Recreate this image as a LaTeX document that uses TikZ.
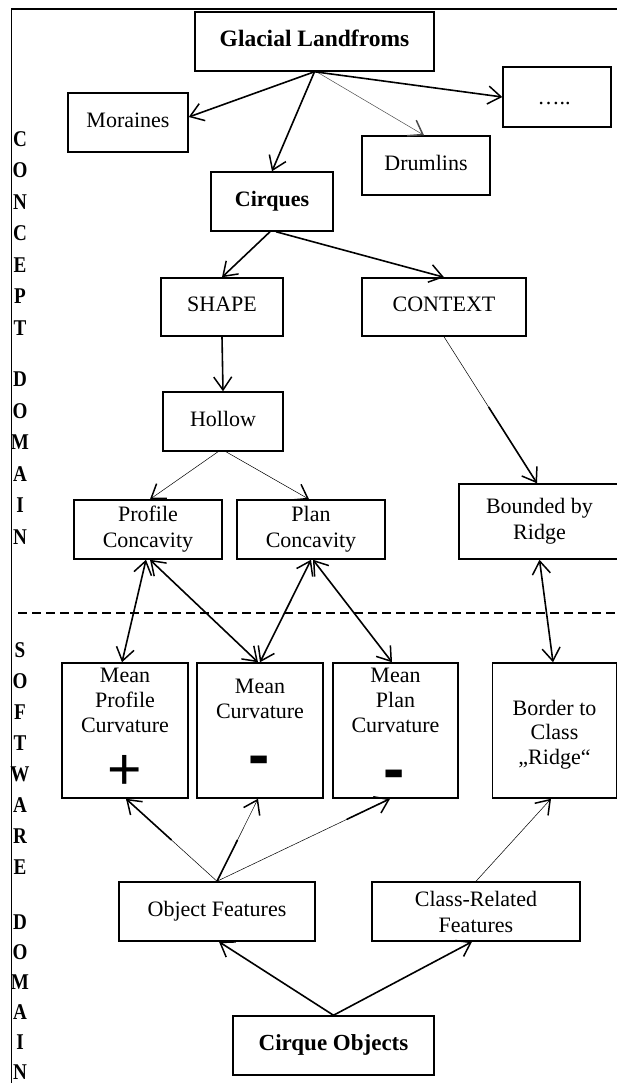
\documentclass[tikz,border=0pt]{standalone}
\usepackage{fontspec}
\setmainfont{Liberation Serif}
\newfontfamily\signfont{Liberation Sans}
\newfontfamily\sidefont{Liberation Serif}[FakeStretch=0.85]
\usetikzlibrary{arrows.meta,calc}
\begin{document}
\begin{tikzpicture}[x=1pt,y=-1pt,
  box/.style={draw, line width=1.5pt, inner sep=0pt, align=center, font=\fontsize{22}{26}\selectfont},
  single/.style={text height=15.4pt, text depth=5.5pt},
  bbox/.style={box, font=\fontsize{23}{27}\selectfont\bfseries, text height=16.1pt, text depth=5.75pt},
  txt/.style={inner sep=0pt, align=center, font=\fontsize{22}{25}\selectfont},
  plus/.style={inner sep=0pt, font=\signfont\fontsize{59}{59}\selectfont},
  minus/.style={inner sep=0pt, font=\signfont\bfseries\fontsize{64}{64}\selectfont},
  side/.style={inner sep=0pt, font=\sidefont\fontsize{22.5}{22.5}\selectfont\bfseries, text height=14.9pt, text depth=0pt},
  thk/.style={line width=1.6pt},
  thn/.style={line width=0.5pt},
  arr/.style={-{Straight Barb[length=13pt,width=18pt,line width=1.5pt]}},
  darr/.style={{Straight Barb[length=13pt,width=18pt,line width=1.5pt]}-{Straight Barb[length=13pt,width=18pt,line width=1.5pt]}}
]
\useasboundingbox (0,0) rectangle (617,1083);

% frame
\draw[line width=1.5pt] (11.5,1086) -- (11.5,9) -- (620,9);
% domain separator
\draw[line width=1.3pt, dash pattern=on 9pt off 5pt] (18,613) -- (620,613);

% side letters
\foreach \l [count=\i] in {C,O,N,C,E,P,T}
  \node[side] (cc\i) at (20,{139+(\i-1)*31.5}) {\l};
\foreach \l [count=\i] in {D,O,M,A,I,N}
  \node[side] (cd\i) at (20,{379+(\i-1)*31.6}) {\l};
\foreach \l [count=\i] in {S,O,F,T,W,A,R,E}
  \node[side] (ss\i) at (20,{650+(\i-1)*31}) {\l};
\foreach \l [count=\i] in {D,O,M,A,I,N}
  \node[side] (sd\i) at (20,{922+(\i-1)*30}) {\l};

% concept domain boxes
\node[bbox, font=\fontsize{23.5}{27}\selectfont\bfseries, minimum width=239pt, minimum height=59pt] (glacial) at (314.5,41.5) {Glacial Landfroms};
\node[box, single, minimum width=120pt, minimum height=59pt] (moraines) at (128,122.5) {Moraines};
\node[box, single, minimum width=108pt, minimum height=60pt] (dots) at (557,97) {\raisebox{-3pt}{\hspace*{-6pt}…..}};
\node[box, single, minimum width=128pt, minimum height=59pt] (drumlins) at (426,165.5) {Drumlins};
\node[bbox, font=\fontsize{22}{27}\selectfont\bfseries, minimum width=122pt, minimum height=59pt] (cirques) at (272,201.5) {Cirques};
\node[box, single, minimum width=122pt, minimum height=58pt] (shape) at (222,307) {SHAPE};
\node[box, single, minimum width=164pt, minimum height=58pt] (context) at (444,307) {CONTEXT};
\node[box, single, minimum width=120pt, minimum height=59pt] (hollow) at (223,421.5) {Hollow};
\node[box, minimum width=148pt, minimum height=59pt] (profconc) at (148,529.5) {Profile\\Concavity};
\node[box, minimum width=148pt, minimum height=59pt] (planconc) at (311,529.5) {Plan\\Concavity};
\node[box, minimum width=161pt, minimum height=75pt] (bounded) at (539.5,521.5) {Bounded by\\Ridge};

% software domain boxes
\node[box, minimum width=126pt, minimum height=135pt] (mprof) at (125,730.5) {};
\node[txt, anchor=north] (mproft) at (125,667.4) {Mean\\Profile\\Curvature};
\node[plus, anchor=base] (mprofs) at (124.5,789.8) {+};
\node[box, minimum width=126pt, minimum height=135pt] (mcurv) at (260,730.5) {};
\node[txt, anchor=north] (mcurvt) at (260,678.7) {Mean\\Curvature};
\node[minus, anchor=base] (mcurvs) at (259,776.5) {-};
\node[box, minimum width=125pt, minimum height=135pt] (mplan) at (395.5,730.5) {};
\node[txt, anchor=north] (mplant) at (395.5,667.4) {Mean\\Plan\\Curvature};
\node[minus, anchor=base] (mplans) at (394,790.5) {-};
\node[box, minimum width=124pt, minimum height=135pt] (border) at (554.5,730.5) {};
\node[txt, anchor=north, font=\fontsize{22}{24.3}\selectfont] (bordert) at (554.5,700) {Border to\\Class\\„Ridge“};

\node[box, single, minimum width=196pt, minimum height=59pt] (objf) at (217,911.5) {Object Features};
\node[box, minimum width=208pt, minimum height=59pt] (classf) at (476,911.5) {Class-Related\\Features};
\node[bbox, minimum width=201pt, minimum height=59pt] (cobj) at (333.5,1045.5) {Cirque Objects};

% endpoint coordinates
\coordinate (morE) at ([yshift=5.5pt]moraines.east);
\coordinate (gdr) at ([xshift=2pt]glacial.south);
\coordinate (drN) at ([xshift=-2pt]drumlins.north);
\coordinate (ciS1) at ([xshift=-2pt]cirques.south);
\coordinate (ciS2) at ([xshift=4pt]cirques.south);
\coordinate (boN) at ([xshift=-2.5pt]bounded.north);
\coordinate (hoS1) at ([xshift=-5pt]hollow.south);
\coordinate (hoS2) at ([xshift=3pt]hollow.south);
\coordinate (prN) at ([xshift=2pt]profconc.north);
\coordinate (plN) at ([xshift=-2pt]planconc.north);
\coordinate (prS1) at ([xshift=-2pt]profconc.south);
\coordinate (prS2) at ([xshift=2pt]profconc.south);
\coordinate (plS2) at ([xshift=2pt]planconc.south);
\coordinate (mpN) at ([xshift=-3pt]mprof.north);
\coordinate (mcN) at ([xshift=-2pt]mcurv.north);
\coordinate (mlN) at ([xshift=-3.5pt]mplan.north);
\coordinate (bdN) at ([xshift=-1.5pt]border.north);
\coordinate (mpS) at ([xshift=1pt]mprof.south);
\coordinate (mcS) at ([xshift=-2pt]mcurv.south);
\coordinate (mlS) at ([xshift=-5.5pt]mplan.south);
\coordinate (bdS) at ([xshift=-3.5pt]border.south);
\coordinate (ofS) at ([xshift=2pt]objf.south);
\coordinate (cfS) at ([xshift=-4pt]classf.south);

% concept connectors
\draw[thk, arr] (glacial.south) -- (morE);
\draw[thk, arr] (glacial.south) -- (cirques.north);
\draw[thn, arr, black!70] (gdr) -- (drN);
\draw[thk, arr] (glacial.south) -- (dots.west);
\draw[thk, arr] (ciS1) -- (shape.north);
\draw[thk, arr] (ciS2) -- (context.north);
\draw[thk, arr] (shape.south) -- (hollow.north);
\draw[thn, arr] (context.south) -- (boN);
\draw[thk, shorten >=1pt] ($(context.south)!0.48!(boN)$) -- (boN);
\draw[thn, arr] (hoS1) -- (prN);
\draw[thn, arr] (hoS2) -- (plN);

% links between domains
\draw[thk, darr] (prS1) -- (mpN);
\draw[thk, darr] (prS2) -- (mcN);
\draw[thk, darr] (planconc.south) -- (mcurv.north);
\draw[thk, darr] (plS2) -- (mlN);
\draw[thk, darr] (bounded.south) -- (bdN);

% software connectors
\draw[thn, arr] (objf.north) -- (mpS);
\draw[thk, shorten >=1pt] ($(objf.north)!0.5!(mpS)$) -- (mpS);
\draw[thn, arr] (objf.north) -- (mcS);
\draw[thk] (objf.north) -- ($(objf.north)!0.5!(mcS)$);
\draw[thn, arr] (objf.north) -- (mlS);
\draw[thk, shorten >=1pt] ($(objf.north)!0.75!(mlS)$) -- (mlS);
\draw[thn, arr] (classf.north) -- (bdS);
\draw[thk, arr] (cobj.north) -- (ofS);
\draw[thk, arr] (cobj.north) -- (cfS);
\end{tikzpicture}
\end{document}
